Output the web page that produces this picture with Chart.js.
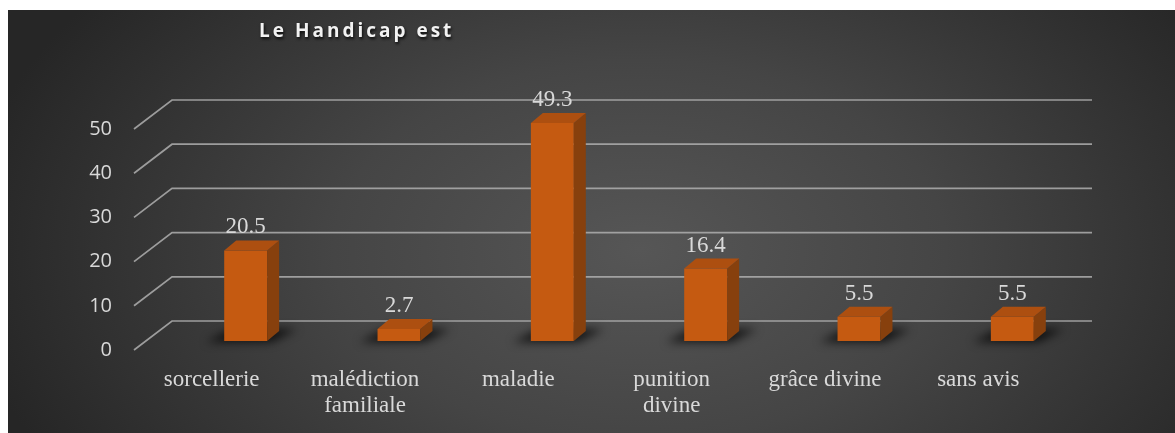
<!DOCTYPE html>
<html>
<head>
<meta charset="utf-8">
<title>Le Handicap est</title>
<script src="https://cdn.jsdelivr.net/npm/chart.js@4.4.1/dist/chart.umd.min.js"></script>
<style>
  body { margin: 0; background: #fff; }
  canvas { display: block; }
</style>
</head>
<body>
<canvas id="myChart" width="1175" height="433"></canvas>
<script>
const chartTitle = "Le Handicap est";
const categories = [
  "sorcellerie",
  ["malédiction", "familiale"],
  "maladie",
  ["punition", "divine"],
  "grâce divine",
  "sans avis",
];
const values = [20.5, 2.7, 49.3, 16.4, 5.5, 5.5];
const yTicks = [0, 10, 20, 30, 40, 50];

const textColor = "#d9d9d9";
const frontColor = "#c55a11";
const sideColor = "#87400d";
const topColor = "#ad4f10";

// depth of the 3d box and of the floor/back wall
const barDx = 12;
const barDy = 10;
const wallFront = { dx: -35, dy: 9 };
const wallBack = { dx: 3, dy: -20 };

const backgroundPlugin = {
  id: "background",
  beforeDraw: (chart) => {
    const ctx = chart.ctx;
    ctx.save();
    ctx.fillStyle = "#ffffff";
    ctx.fillRect(0, 0, chart.width, chart.height);
    ctx.beginPath();
    ctx.rect(8, 10, chart.width - 8, chart.height - 10);
    ctx.clip();
    ctx.translate(640, 250);
    ctx.scale(1, 0.62);
    const grad = ctx.createRadialGradient(0, 0, 0, 0, 0, 680);
    grad.addColorStop(0, "#565656");
    grad.addColorStop(0.45, "#454545");
    grad.addColorStop(1, "#262626");
    ctx.fillStyle = grad;
    ctx.fillRect(-700, -700, 1400, 1400);
    ctx.restore();
  },
};

const wallPlugin = {
  id: "wall",
  beforeDatasetsDraw: (chart) => {
    const ctx = chart.ctx;
    const yScale = chart.scales.y;
    const area = chart.chartArea;
    ctx.save();
    ctx.strokeStyle = "rgba(175,175,175,0.85)";
    ctx.lineWidth = 1.7;
    yScale.ticks.forEach((t) => {
      const y = yScale.getPixelForValue(t.value);
      ctx.beginPath();
      ctx.moveTo(area.left + wallFront.dx, y + wallFront.dy);
      ctx.lineTo(area.left + wallBack.dx, y + wallBack.dy);
      ctx.lineTo(area.right + wallBack.dx, y + wallBack.dy);
      ctx.stroke();
    });

    // soft shadow under each bar
    const meta = chart.getDatasetMeta(0);
    ctx.filter = "blur(5px)";
    ctx.fillStyle = "rgba(0,0,0,0.75)";
    meta.data.forEach((bar) => {
      const left = bar.x - bar.width / 2;
      const right = bar.x + bar.width / 2;
      ctx.beginPath();
      ctx.moveTo(left - 18, bar.base + 1);
      ctx.lineTo(right + 4, bar.base + 1);
      ctx.lineTo(right + barDx + 18, bar.base - barDy - 2);
      ctx.lineTo(left + barDx - 4, bar.base - barDy - 2);
      ctx.closePath();
      ctx.fill();
    });
    ctx.filter = "none";
    ctx.restore();
  },
};

const boxPlugin = {
  id: "box3d",
  afterDatasetsDraw: (chart) => {
    const ctx = chart.ctx;
    const meta = chart.getDatasetMeta(0);
    ctx.save();
    meta.data.forEach((bar, i) => {
      const left = bar.x - bar.width / 2;
      const right = bar.x + bar.width / 2;
      const top = bar.y;
      const base = bar.base;

      ctx.fillStyle = sideColor;
      ctx.beginPath();
      ctx.moveTo(right, top);
      ctx.lineTo(right + barDx, top - barDy);
      ctx.lineTo(right + barDx, base - barDy);
      ctx.lineTo(right, base);
      ctx.closePath();
      ctx.fill();

      ctx.fillStyle = topColor;
      ctx.beginPath();
      ctx.moveTo(left, top);
      ctx.lineTo(left + barDx, top - barDy);
      ctx.lineTo(right + barDx, top - barDy);
      ctx.lineTo(right, top);
      ctx.closePath();
      ctx.fill();

      ctx.fillStyle = textColor;
      ctx.font = "23px 'Liberation Serif', 'Times New Roman', serif";
      ctx.textAlign = "center";
      ctx.textBaseline = "alphabetic";
      ctx.fillText(String(values[i]), bar.x, top - 17);
    });
    ctx.restore();
  },
};

const titlePlugin = {
  id: "customTitle",
  afterDraw: (chart) => {
    const ctx = chart.ctx;
    ctx.save();
    ctx.font = "bold 19px 'Open Sans', sans-serif";
    ctx.letterSpacing = "3px";
    ctx.fillStyle = "#f2f2f2";
    ctx.textAlign = "left";
    ctx.textBaseline = "alphabetic";
    ctx.shadowColor = "rgba(0,0,0,0.8)";
    ctx.shadowBlur = 3;
    ctx.shadowOffsetX = 1;
    ctx.shadowOffsetY = 2;
    ctx.fillText(chartTitle, 259, 37);
    ctx.restore();
  },
};

const ctx = document.getElementById("myChart").getContext("2d");
const myChart = new Chart(ctx, {
  type: "bar",
  data: {
    labels: categories,
    datasets: [
      {
        data: values,
        backgroundColor: frontColor,
        borderWidth: 0,
        barPercentage: 0.28,
        categoryPercentage: 1,
      },
    ],
  },
  options: {
    responsive: false,
    animation: false,
    devicePixelRatio: 1,
    layout: {
      padding: { left: 89, right: 86, top: 120, bottom: 0 },
    },
    plugins: {
      legend: { display: false },
      title: { display: false },
      tooltip: { enabled: false },
    },
    scales: {
      x: {
        grid: { display: false, drawTicks: false },
        border: { display: false },
        afterFit: (scale) => {
          scale.height = 92;
        },
        ticks: {
          color: textColor,
          font: { family: "'Liberation Serif', 'Times New Roman', serif", size: 23, lineHeight: 1.13 },
          padding: 26,
          labelOffset: -34,
          maxRotation: 0,
          autoSkip: false,
        },
      },
      y: {
        min: 0,
        max: 50,
        grid: { display: false, drawTicks: false },
        border: { display: false },
        afterFit: (scale) => {
          scale.width = 80;
        },
        afterBuildTicks: (scale) => {
          scale.ticks = yTicks.map((v) => ({ value: v }));
        },
        ticks: {
          color: textColor,
          font: { family: "'Open Sans', sans-serif", size: 20 },
          padding: 57,
          labelOffset: 9,
        },
      },
    },
  },
  plugins: [backgroundPlugin, wallPlugin, boxPlugin, titlePlugin],
});
</script>
</body>
</html>
